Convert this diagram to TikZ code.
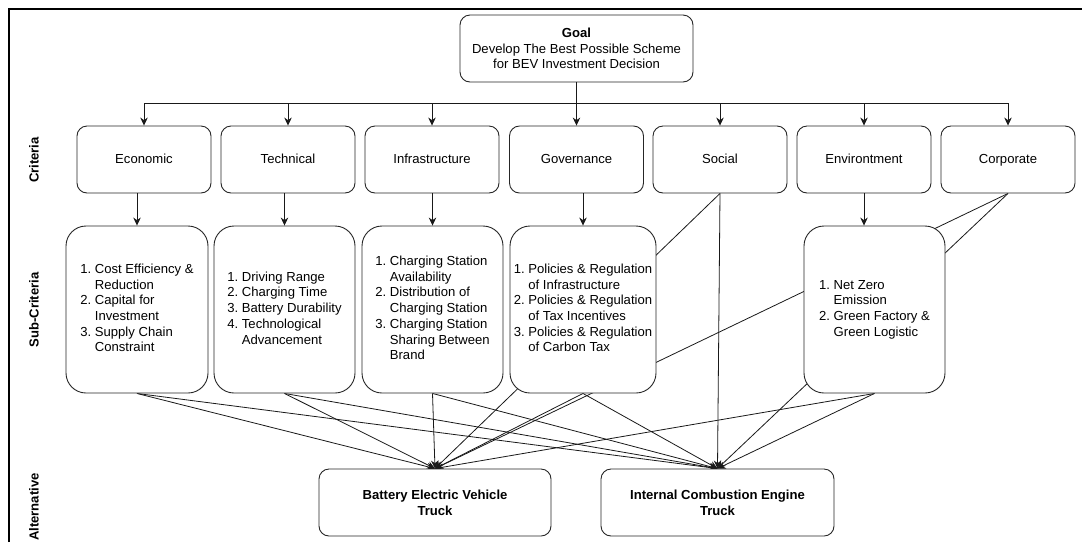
\documentclass[tikz,border=0pt]{standalone}
\usepackage{fontspec}
\setmainfont{Liberation Sans}
\usetikzlibrary{arrows.meta,backgrounds}
\begin{document}
\begin{tikzpicture}[x=1pt,y=-1pt,
  fnt/.style={font=\fontsize{13.1}{15.7}\selectfont},
  box/.style={fnt, draw=black!85, line width=0.9pt, fill=white, rounded corners=10pt, inner sep=0pt, align=center},
  critbox/.style={box, minimum width=134pt, minimum height=67pt, text height=9.4pt, text depth=0.6pt},
  subbox/.style={box, rounded corners=20pt, minimum width=141pt, minimum height=167pt},
  altbox/.style={box, minimum width=232pt, minimum height=67pt, font=\fontsize{13.1}{15.7}\selectfont\bfseries},
  sidelabel/.style={fnt, font=\fontsize{13.1}{15.7}\selectfont\bfseries, rotate=90, inner sep=0pt},
  arr/.style={draw=black!90, line width=0.8pt, -{Stealth[length=8pt,width=7.5pt]}},
  ln/.style={draw=black!90, line width=0.8pt}
]
\useasboundingbox (0,0) rectangle (1082,542);
\draw[line width=2pt] (9,542) -- (9,9) -- (1082,9);

% side labels
\node[sidelabel] (lcrit) at (34,160) {Criteria};
\node[sidelabel] (lsub) at (34,310) {Sub-Criteria};
\node[sidelabel] (lalt) at (34,507) {Alternative};

% goal
\node[box, minimum width=233pt, minimum height=67pt] (goal) at (576.5,48.5)
  {\textbf{Goal}\\Develop The Best Possible Scheme\\for BEV Investment Decision};

% criteria
\node[critbox] (eco)   at (144,159.5) {Economic};
\node[critbox] (tech)  at (288,159.5) {Technical};
\node[critbox] (infra) at (432,159.5) {Infrastructure};
\node[critbox] (gov)   at (576.5,159.5) {Governance};
\node[critbox] (soc)   at (720,159.5) {Social};
\node[critbox] (env)   at (864,159.5) {Environtment};
\node[critbox] (corp)  at (1008,159.5) {Corporate};

% sub-criteria
\node[subbox, minimum width=142pt] (ecosub) at (137,309.5)
  {\begin{tabular}{@{}r@{\ }l@{}}1. & Cost Efficiency \&\\ & Reduction\\ 2. & Capital for\\ & Investment\\ 3. & Supply Chain\\ & Constraint\end{tabular}};
\node[subbox] (techsub) at (284.5,309.5)
  {\begin{tabular}{@{}r@{\ }l@{}}1. & Driving Range\\ 2. & Charging Time\\ 3. & Battery Durability\\ 4. & Technological\\ & Advancement\end{tabular}};
\node[subbox] (infrasub) at (432.5,309.5)
  {\begin{tabular}{@{}r@{\ }l@{}}1. & Charging Station\\ & Availability\\ 2. & Distribution of\\ & Charging Station\\ 3. & Charging Station\\ & Sharing Between\\ & Brand\end{tabular}};
\node[subbox, minimum width=146pt] (govsub) at (583,309.5)
  {\begin{tabular}{@{}r@{\ }l@{}}1. & Policies \& Regulation\\ & of Infrastructure\\ 2. & Policies \& Regulation\\ & of Tax Incentives\\ 3. & Policies \& Regulation\\ & of Carbon Tax\end{tabular}};
\node[subbox] (envsub) at (874.5,309.5)
  {\begin{tabular}{@{}r@{\ }l@{}}1. & Net Zero\\ & Emission\\ 2. & Green Factory \&\\ & Green Logistic\end{tabular}};

% alternatives
\node[altbox] (bev) at (435,502.5) {Battery Electric Vehicle\\Truck};
\node[altbox, minimum width=233pt] (ice) at (717.5,502.5) {Internal Combustion Engine\\Truck};

% goal to criteria
\coordinate (busL) at (144,103);
\coordinate (busR) at (1008,103);
\draw[ln] (busL) -- (busR);
\draw[arr] (goal.south) -- (gov.north);
\foreach \c in {eco,tech,infra,soc,env,corp}{
  \draw[arr] (\c.north |- busL) -- (\c.north);
}

% criteria to sub-criteria
\draw[arr] (ecosub.north |- eco.south) -- (ecosub.north);
\draw[arr] (techsub.north |- tech.south) -- (techsub.north);
\draw[arr] (infrasub.north |- infra.south) -- (infrasub.north);
\draw[arr] (govsub.north |- gov.south) -- (govsub.north);
\draw[arr] (env.south) -- (env.south |- envsub.north);

% to alternatives (behind boxes)
\begin{pgfonlayer}{background}
\foreach \s in {ecosub,techsub,infrasub,govsub,envsub,soc,corp}{
  \draw[arr] (\s.south) -- (bev.north);
  \draw[arr] (\s.south) -- (ice.north);
}
\end{pgfonlayer}
\end{tikzpicture}
\end{document}
